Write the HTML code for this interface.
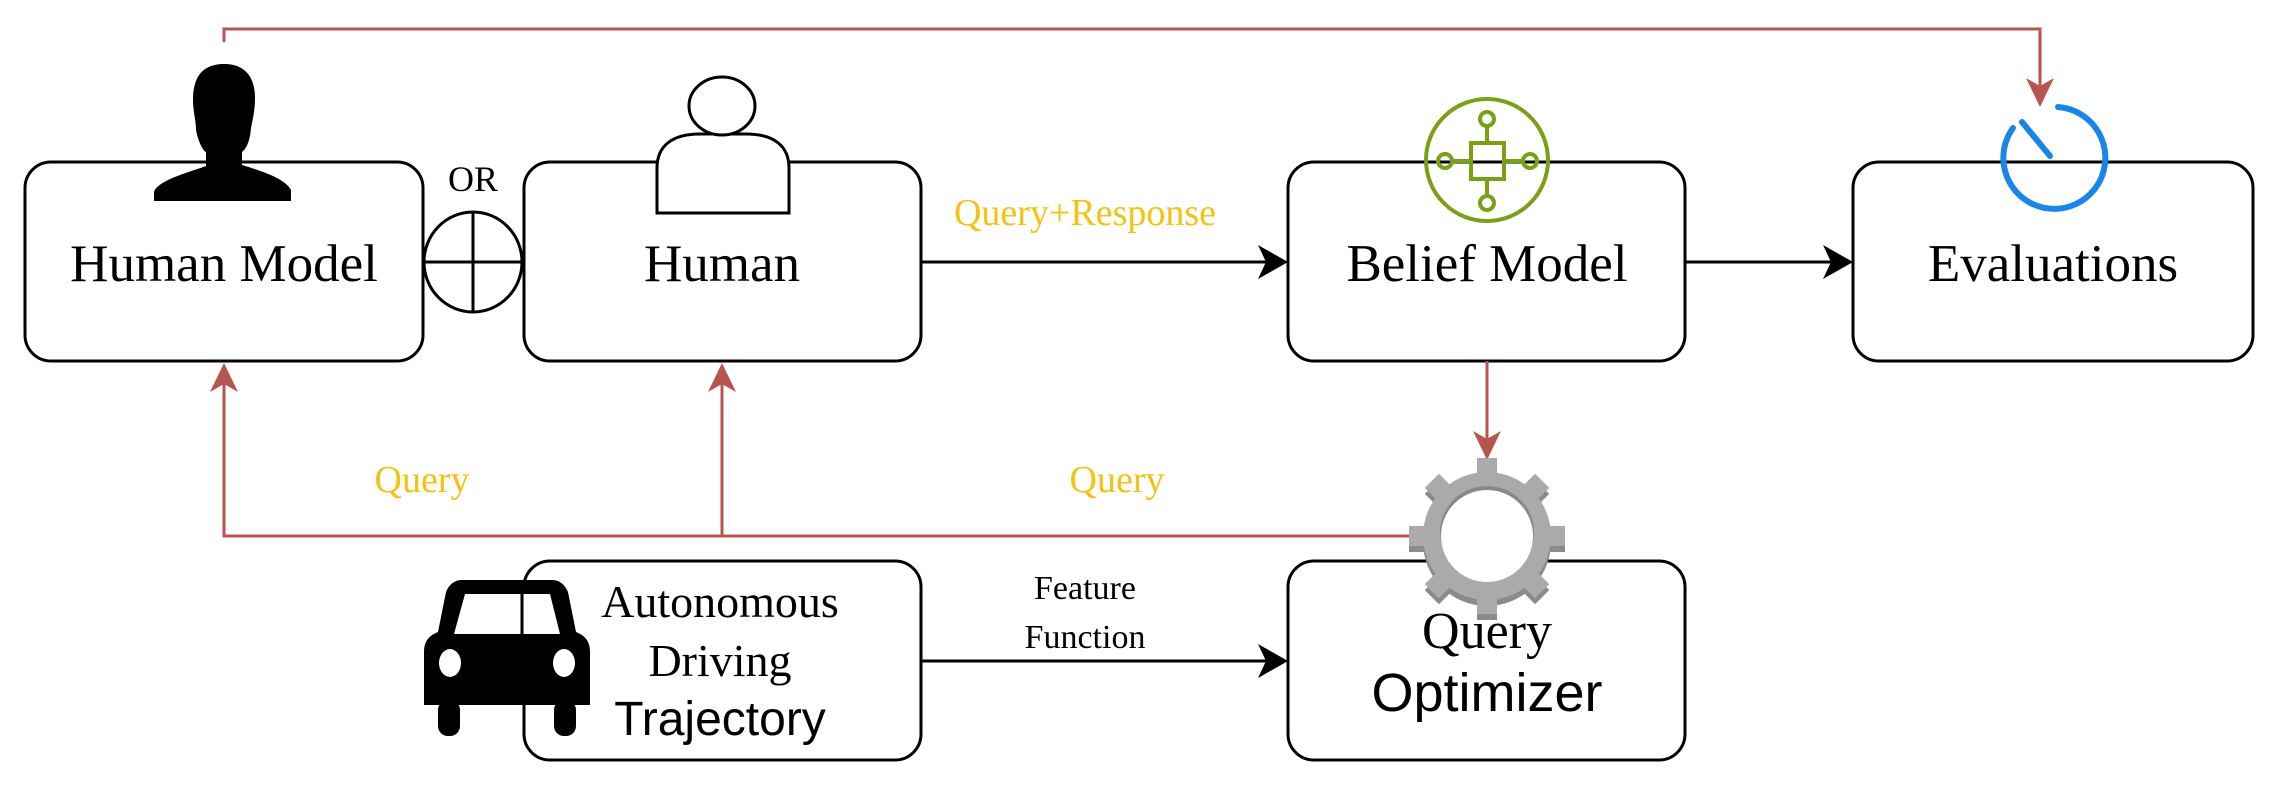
<!DOCTYPE html>
<html><head><meta charset="utf-8"><style>html,body{margin:0;padding:0;background:#fff}</style></head>
<body>
<svg width="2275" height="783" viewBox="0 0 2275 783" xmlns="http://www.w3.org/2000/svg">
<g fill="#fff" stroke="#000" stroke-width="3">
<rect x="25" y="162" width="398" height="199" rx="26"/>
<rect x="524" y="162" width="397" height="199" rx="26"/>
<rect x="1288" y="162" width="397" height="199" rx="26"/>
<rect x="1853" y="162" width="400" height="199" rx="26"/>
<rect x="524" y="561" width="397" height="199" rx="26"/>
<rect x="1288" y="561" width="397" height="199" rx="26"/>
<ellipse cx="473" cy="262" rx="49" ry="50"/>
</g>
<g stroke="#000" stroke-width="3"><line x1="424" y1="262" x2="522" y2="262"/><line x1="473" y1="212" x2="473" y2="312"/></g>
<g stroke="#000" stroke-width="3">
<line x1="921" y1="262" x2="1272" y2="262"/><line x1="1685" y1="262" x2="1838" y2="262"/><line x1="921" y1="661" x2="1272" y2="661"/>
</g>
<g fill="#000">
<path d="M1288,262 L1258,245 L1266,262 L1258,279z"/>
<path d="M1853,262 L1823,245 L1831,262 L1823,279z"/>
<path d="M1288,661 L1258,644 L1266,661 L1258,678z"/>
</g>
<g stroke="#b85450" stroke-width="3" fill="none">
<polyline points="224,42 224,29 2040,29 2040,92"/>
<line x1="1487" y1="361" x2="1487" y2="445"/>
<polyline points="1409,536 224,536 224,378"/>
<line x1="722" y1="536" x2="722" y2="378"/>
</g>
<g fill="#b85450">
<path d="M2040,107 L2026,78 L2040,86 L2054,78z"/>
<path d="M1487,460 L1473,431 L1487,439 L1501,431z"/>
<path d="M224,363 L210,392 L224,384 L238,392z"/>
<path d="M722,363 L708,392 L722,384 L736,392z"/>
</g>
<path d="M224,64 C200,64 193,80 193,100 C193,112 196,120 196,130 C198,140 202,150 206,152 L206,166 C190,172 158,180 154,192 L154,201 L291,201 L291,190 C285,178 258,170 242,165 L242,152 C247,148 250,140 251,128 C253,118 255,110 255,98 C255,78 246,64 224,64z" fill="#000"/>
<g fill="#fff" stroke="#000" stroke-width="3">
<path d="M657,213 L657,168 C657,146 672,134 700,134 L746,134 C774,134 789,146 789,168 L789,213z"/>
<ellipse cx="722" cy="106" rx="33" ry="29"/>
</g>
<g fill="none" stroke="#7aa116" stroke-width="4">
<circle cx="1487" cy="160" r="61"/>
<rect x="1471" y="143" width="33" height="36"/>
<line x1="1487" y1="126" x2="1487" y2="143"/><line x1="1487" y1="179" x2="1487" y2="195"/>
<line x1="1452" y1="161" x2="1471" y2="161"/><line x1="1504" y1="161" x2="1522" y2="161"/>
<circle cx="1487" cy="119" r="7"/><circle cx="1487" cy="203" r="7"/>
<circle cx="1445" cy="161" r="7"/><circle cx="1530" cy="161" r="7"/>
</g>
<g fill="none" stroke="#1a85e8" stroke-width="6" stroke-linecap="round">
<path d="M2058,107 A51,51 0 1 1 2013,128"/>
<line x1="2050" y1="156" x2="2022" y2="122"/>
</g>
<g transform="translate(1487,536)">
<g fill="#8a8a8a" transform="translate(0,6)">
<circle r="64"/>
<rect x="-10" y="-78" width="20" height="20"/><rect x="-10" y="58" width="20" height="20"/><rect x="-78" y="-10" width="20" height="20"/><rect x="58" y="-10" width="20" height="20"/>
<g transform="rotate(45)"><rect x="-10" y="-78" width="20" height="20"/><rect x="-10" y="58" width="20" height="20"/><rect x="-78" y="-10" width="20" height="20"/><rect x="58" y="-10" width="20" height="20"/></g>
</g>
<g fill="#aaa">
<circle r="64"/>
<rect x="-10" y="-78" width="20" height="20"/><rect x="-10" y="58" width="20" height="20"/><rect x="-78" y="-10" width="20" height="20"/><rect x="58" y="-10" width="20" height="20"/>
<g transform="rotate(45)"><rect x="-10" y="-78" width="20" height="20"/><rect x="-10" y="58" width="20" height="20"/><rect x="-78" y="-10" width="20" height="20"/><rect x="58" y="-10" width="20" height="20"/></g>
</g>
<ellipse cx="0" cy="-4" rx="47" ry="46" fill="#888"/>
<ellipse cx="0" cy="0" rx="46" ry="46" fill="#fff"/>
</g>
<g fill="#000">
<path d="M462,580 L552,580 C560,580 565,585 568,592 L576,632 C586,636 590,642 590,652 L590,705 L424,705 L424,652 C424,642 428,636 438,632 L446,592 C449,585 454,580 462,580z"/>
<rect x="438" y="700" width="22" height="36" rx="10"/><rect x="554" y="700" width="22" height="36" rx="10"/>
</g>
<path d="M465,594 L550,594 L560,634 L454,634z" fill="#fff"/>
<line x1="522" y1="592" x2="522" y2="636" stroke="#000" stroke-width="3"/>
<ellipse cx="450" cy="663" rx="11" ry="14" fill="#fff"/><ellipse cx="564" cy="663" rx="11" ry="14" fill="#fff"/>
<g font-family="'Liberation Serif', serif" text-anchor="middle" fill="#000">
<text x="224" y="281" font-size="53">Human Model</text>
<text x="722" y="281" font-size="53">Human</text>
<text x="1487" y="281" font-size="53">Belief Model</text>
<text x="2053" y="281" font-size="53">Evaluations</text>
<text x="473" y="191" font-size="36">OR</text>
<text x="1085" y="599" font-size="34">Feature</text>
<text x="1085" y="648" font-size="34">Function</text>
<text x="720" y="617" font-size="46">Autonomous</text>
<text x="720" y="676" font-size="46">Driving</text>
<text x="1487" y="648" font-size="52">Query</text>
</g>
<g font-family="'Liberation Sans', sans-serif" text-anchor="middle" fill="#000">
<text x="720" y="735" font-size="48">Trajectory</text>
<text x="1487" y="711" font-size="54">Optimizer</text>
</g>
<g font-family="'Liberation Serif', serif" text-anchor="middle" fill="#f5c211" font-size="38">
<text x="1085" y="225">Query+Response</text>
<text x="422" y="492">Query</text>
<text x="1117" y="492">Query</text>
</g>
</svg>
</body></html>
